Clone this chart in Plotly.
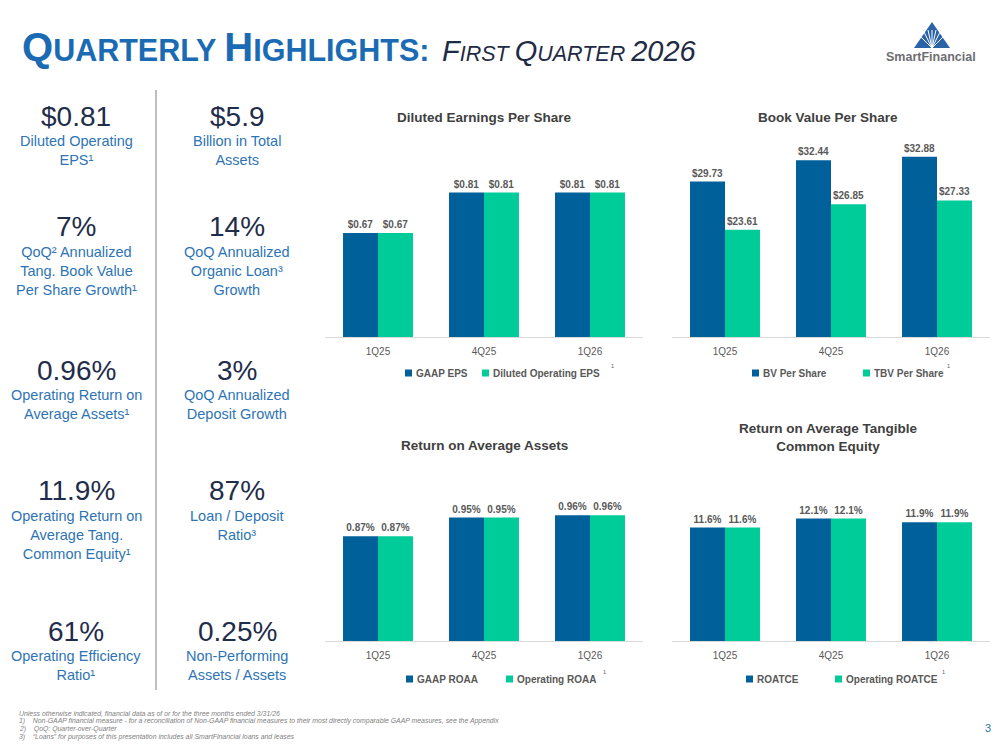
import plotly.graph_objects as go

# ---------------- data ----------------
quarters = ["1Q25", "4Q25", "1Q26"]
gaap_eps = [0.67, 0.81, 0.81]
op_eps = [0.67, 0.81, 0.81]
bv_per_share = [29.73, 32.44, 32.88]
tbv_per_share = [23.61, 26.85, 27.33]
gaap_roaa = [0.87, 0.95, 0.96]
op_roaa = [0.87, 0.95, 0.96]
roatce = [11.6, 12.1, 11.9]
op_roatce = [11.6, 12.1, 11.9]

left_values = ["$0.81", "7%", "0.96%", "11.9%", "61%"]
left_labels = [
    "Diluted Operating<br>EPS\u00b9",
    "QoQ\u00b2 Annualized<br>Tang. Book Value<br>Per Share Growth\u00b9",
    "Operating Return on<br>Average Assets\u00b9",
    "Operating Return on<br>Average Tang.<br>Common Equity\u00b9",
    "Operating Efficiency<br>Ratio\u00b9",
]
right_values = ["$5.9", "14%", "3%", "87%", "0.25%"]
right_labels = [
    "Billion in Total<br>Assets",
    "QoQ Annualized<br>Organic Loan\u00b3<br>Growth",
    "QoQ Annualized<br>Deposit Growth",
    "Loan / Deposit<br>Ratio\u00b3",
    "Non-Performing<br>Assets / Assets",
]
footnotes = [
    "Unless otherwise indicated, financial data as of or for the three months ended 3/31/26",
    "1)    Non-GAAP financial measure - for a reconciliation of Non-GAAP financial measures to their most directly comparable GAAP measures, see the Appendix",
    "2)    QoQ: Quarter-over-Quarter",
    "3)    \u201cLoans\u201d for purposes of this presentation includes all SmartFinancial loans and leases",
]

# ---------------- style ----------------
W, H = 999, 750
BLUE = "#00609A"
GREEN = "#00CC99"
GRAY = "#595959"
TITLE_GRAY = "#404040"
NAVY = "#1F2D4A"
LBLUE = "#2E74B5"
FONT = "Liberation Sans, Arial, sans-serif"


def fx(x):
    return x / W


def fy(y):
    return 1 - y / H


fig = go.Figure()

charts = [
    # (axis id, series1, series2, name1, name2, fmt, x0, x1, ytop, ybase, yrange)
    ("", gaap_eps, op_eps, "GAAP EPS", "Diluted Operating EPS", "$%{y:.2f}", 325, 643, 140, 337, [0.31, 0.992]),
    ("2", bv_per_share, tbv_per_share, "BV Per Share", "TBV Per Share", "$%{y:.2f}", 672, 990, 140, 337, [10.0, 35.0]),
    ("3", gaap_roaa, op_roaa, "GAAP ROAA", "Operating ROAA", "%{y:.2f}%", 325, 643, 470, 641, [0.42, 1.154]),
    ("4", roatce, op_roatce, "ROATCE", "Operating ROATCE", "%{y:.1f}%", 672, 990, 470, 641, [5.3, 14.8]),
]

for axid, s1, s2, n1, n2, fmt, x0, x1, ytop, ybase, yr in charts:
    for vals, col, name in ((s1, BLUE, n1), (s2, GREEN, n2)):
        fig.add_trace(go.Bar(
            x=quarters, y=vals, name=name, marker=dict(color=col, line=dict(width=0)),
            texttemplate=fmt, textposition="outside", cliponaxis=False,
            constraintext="none",
            textfont=dict(family=FONT, size=10, color=GRAY, weight="bold"),
            xaxis="x" + axid, yaxis="y" + axid, showlegend=False,
            hoverinfo="skip",
        ))
    fig.update_layout(**{
        "xaxis" + axid: dict(
            domain=[fx(x0), fx(x1)], anchor="y" + axid, type="category",
            showline=True, linecolor="#D9D9D9", linewidth=1, ticks="",
            showgrid=False, zeroline=False, ticklabelstandoff=5,
            tickfont=dict(family=FONT, size=10, color=GRAY), fixedrange=True,
        ),
        "yaxis" + axid: dict(
            domain=[fy(ybase), fy(ytop)], anchor="x" + axid, range=yr,
            visible=False, showgrid=False, zeroline=False, fixedrange=True,
        ),
    })

fig.update_layout(
    width=W, height=H, margin=dict(l=0, r=0, t=0, b=0),
    paper_bgcolor="white", plot_bgcolor="white",
    barmode="group", bargap=0.34, bargroupgap=0.0,
    showlegend=False,
)

ann = []
shapes = []


def text(x, y, t, size, color, bold=False, italic=False, xanchor="center", family=FONT, yanchor="middle"):
    ann.append(dict(
        x=fx(x), y=fy(y), xref="paper", yref="paper", text=t, showarrow=False,
        xanchor=xanchor, yanchor=yanchor,
        font=dict(family=family, size=size, color=color,
                  weight="bold" if bold else "normal",
                  style="italic" if italic else "normal"),
    ))


# ---- page title ----
TB = 40
TS = 30.5
title_html = (
    f"<span style='font-size:{TB}px'>Q</span>UARTERLY "
    f"<span style='font-size:{TB}px'>H</span>IGHLIGHTS:"
)
ann.append(dict(x=fx(20), y=fy(71), xref="paper", yref="paper", text=title_html,
                showarrow=False, xanchor="left", yanchor="bottom",
                font=dict(family=FONT, size=TS, color="#1A6BB3", weight="bold")))
IB = 29
IS = 21.5
sub_html = (
    f"<span style='font-size:{IB}px'>F</span>IRST "
    f"<span style='font-size:{IB}px'>Q</span>UARTER "
    f"<span style='font-size:{IB}px'>2026</span>"
)
ann.append(dict(x=fx(440), y=fy(69), xref="paper", yref="paper", text=sub_html,
                showarrow=False, xanchor="left", yanchor="bottom",
                font=dict(family=FONT, size=IS, color="#1F2A44", style="italic")))

# ---- logo ----
shapes.append(dict(type="path", xref="paper", yref="paper",
                   path=f"M {fx(932)} {fy(22)} L {fx(950)} {fy(48)} L {fx(914)} {fy(48)} Z",
                   fillcolor="#2A63A8", line=dict(width=0)))
for tx in [918, 923, 928, 932, 936, 941, 946]:
    shapes.append(dict(type="line", xref="paper", yref="paper",
                       x0=fx(932), y0=fy(48), x1=fx(tx), y1=fy(34 if tx in (918, 946) else 30),
                       line=dict(color="white", width=1)))
text(931, 57, "SmartFinancial", 12.5, "#6D6E71", bold=True)

# ---- left highlights ----
val_y = [116, 227, 370, 491, 631]
for i in range(5):
    for cx, vals, labs in ((76, left_values, left_labels), (237, right_values, right_labels)):
        text(cx, val_y[i], vals[i], 28, NAVY)
        ann.append(dict(
            x=fx(cx), y=fy(val_y[i] + 15), xref="paper", yref="paper", text=labs[i],
            showarrow=False, xanchor="center", yanchor="top", align="center",
            font=dict(family=FONT, size=14.5, color=LBLUE),
        ))
shapes.append(dict(type="line", xref="paper", yref="paper", x0=fx(156), x1=fx(156),
                   y0=fy(90), y1=fy(690), line=dict(color="#BFBFBF", width=2)))

# ---- chart titles ----
text(484, 117, "Diluted Earnings Per Share", 13.5, TITLE_GRAY, bold=True)
text(828, 117, "Book Value Per Share", 13.5, TITLE_GRAY, bold=True)
text(484, 445, "Return on Average Assets", 13.5, TITLE_GRAY, bold=True)
text(828, 437, "Return on Average Tangible<br>Common Equity", 13.5, TITLE_GRAY, bold=True)

# ---- legends ----
legend_items = [
    (373, [(405, "GAAP EPS"), (482, "Diluted Operating EPS")], 609),
    (373, [(752, "BV Per Share"), (863, "TBV Per Share")], 945),
    (679, [(406, "GAAP ROAA"), (506, "Operating ROAA")], 601),
    (679, [(746, "ROATCE"), (835, "Operating ROATCE")], 940),
]
for ly, items, supx in legend_items:
    for (sx, lab), col in zip(items, (BLUE, GREEN)):
        shapes.append(dict(type="rect", xref="paper", yref="paper",
                           x0=fx(sx), x1=fx(sx + 7), y0=fy(ly + 3.5), y1=fy(ly - 3.5),
                           fillcolor=col, line=dict(width=0)))
        text(sx + 9, ly, lab, 10, GRAY, bold=True, xanchor="left")
    text(supx, ly - 7, "1", 5.5, GRAY, xanchor="left")

# ---- footnotes ----
for i, fn in enumerate(footnotes):
    text(17, 713 + 8 * i, fn, 6.9, "#808080", italic=True, xanchor="left")

# ---- page number ----
text(988, 728, "3", 11, LBLUE)

fig.update_layout(annotations=ann, shapes=shapes)
fig.write_html("out.html")
